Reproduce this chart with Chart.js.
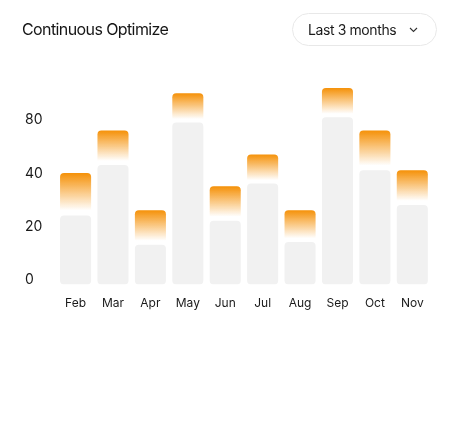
<!DOCTYPE html>
<html lang="en">
<head>
  <meta charset="UTF-8">
  <title>Continuous Optimize</title>
  <script src="https://cdn.jsdelivr.net/npm/chart.js"></script>
  <style>
    html, body { margin: 0; padding: 0; background: #fff; }
    body { width: 453px; height: 423px; position: relative; overflow: hidden; font-family: Inter, sans-serif; }
    .title { position: absolute; left: 22px; top: 19px; font-size: 16px; color: #161616; line-height: 20px; letter-spacing: -0.6px; }
    .range { position: absolute; left: 292px; top: 13px; width: 143px; height: 31px; border: 1px solid #e8e8e8; border-radius: 17px;
             font-size: 14px; color: #1a1a1a; line-height: 31px; letter-spacing: -0.4px; box-sizing: content-box; }
    .range span { position: absolute; left: 15px; }
    .range svg { position: absolute; left: 116px; top: 13px; }
    .chart-box { position: absolute; left: 0; top: 0; width: 453px; height: 423px; }
  </style>
</head>
<body>

  <div class="chart-box">
    <canvas id="optChart"></canvas>
  </div>

  <!-- Header -->
  <div class="title">Continuous Optimize</div>
  <div class="range">
    <span>Last 3 months</span>
    <svg width="9" height="6" viewBox="0 0 9 6"><path d="M1 1 L4.5 4.5 L8 1" fill="none" stroke="#333" stroke-width="1.1"/></svg>
  </div>

  <script>
    // data
    const months = ['Feb', 'Mar', 'Apr', 'May', 'Jun', 'Jul', 'Aug', 'Sep', 'Oct', 'Nov'];
    const baseValues = [26, 45, 15, 61, 24, 38, 16, 63, 43, 30];
    const topValues = [42, 58, 28, 72, 37, 49, 28, 74, 58, 43];
    const yTickLabels = ['0', '20', '40', '80'];

    const orange = 'rgba(245, 145, 8, 1)';

    // orange cap fades out toward the grey bar under it
    function orangeFade(context) {
      const chart = context.chart;
      if (!chart.chartArea) return orange;
      const y = chart.scales.y;
      const i = context.dataIndex;
      const top = y.getPixelForValue(topValues[i]);
      const bottom = y.getPixelForValue(baseValues[i]);
      const g = chart.ctx.createLinearGradient(0, top, 0, bottom);
      g.addColorStop(0, 'rgba(245, 145, 8, 1)');
      g.addColorStop(0.88, 'rgba(245, 145, 8, 0)');
      g.addColorStop(1, 'rgba(245, 145, 8, 0)');
      return g;
    }

    const ctx = document.getElementById('optChart').getContext('2d');
    new Chart(ctx, {
      type: 'bar',
      data: {
        labels: months,
        datasets: [
          {
            label: 'Base',
            data: baseValues,
            backgroundColor: '#f1f1f1',
            borderRadius: 4,
            borderSkipped: false,
            order: 2
          },
          {
            label: 'Optimize',
            data: months.map((m, i) => [baseValues[i], topValues[i]]),
            backgroundColor: orangeFade,
            borderRadius: 4,
            borderSkipped: false,
            order: 1
          }
        ]
      },
      options: {
        responsive: true,
        maintainAspectRatio: false,
        animation: false,
        grouped: false,
        datasets: { bar: { barPercentage: 0.83, categoryPercentage: 1 } },
        layout: { padding: { left: 25, right: 22, top: 72, bottom: 101 } },
        plugins: {
          legend: { display: false },
          tooltip: { enabled: false }
        },
        scales: {
          x: {
            grid: { display: false, drawTicks: false },
            border: { display: false },
            ticks: {
              padding: 11.5,
              color: '#1a1a1a',
              font: { family: 'Inter', size: 12 }
            }
          },
          y: {
            min: 0,
            max: 80,
            grid: { display: false, drawTicks: false },
            border: { display: false },
            ticks: {
              stepSize: 20,
              padding: 7,
              crossAlign: 'far',
              labelOffset: -5,
              color: '#1a1a1a',
              font: { family: 'Inter', size: 14 },
              callback: (v) => yTickLabels[v / 20]
            }
          }
        }
      }
    });
  </script>

</body>
</html>
